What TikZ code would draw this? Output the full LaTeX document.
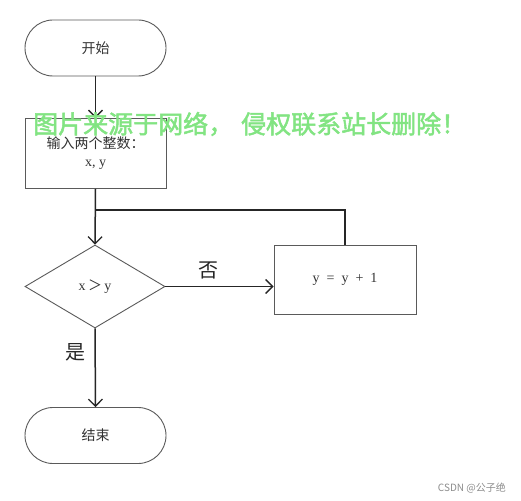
\documentclass[tikz,border=0pt]{standalone}
\usepackage{fontspec}
\setmainfont{Liberation Serif}
\newfontfamily\cjk{Noto Sans CJK SC}
\newfontfamily\cjkb[FakeBold=2]{Noto Sans CJK SC}
\usetikzlibrary{shapes.geometric,arrows.meta}
\definecolor{edge}{RGB}{90,90,90}
\definecolor{wm}{RGB}{130,228,130}
\tikzset{
  shp/.style={draw=edge,line width=0.9pt,fill=white,font=\cjk\fontsize{14}{16}\selectfont,text=black!80},
  term/.style={shp,rounded corners=28pt,minimum width=141pt,minimum height=56pt},
  boxnode/.style={shp,rectangle,minimum width=141pt,minimum height=70pt},
  dia/.style={shp,diamond,minimum width=140pt,minimum height=83pt,inner sep=0pt},
  conn/.style={draw=black!85,line width=1.5pt},
  arr/.style={conn,-{Straight Barb[length=7pt,width=14pt,line width=1.3pt]}},
  lab/.style={font=\cjk\fontsize{20}{22}\selectfont,text=black!85}
}
\begin{document}
\begin{tikzpicture}[x=1pt,y=-1pt]
\useasboundingbox (0,0) rectangle (521,500);
\fill[white] (0,0) rectangle (521,500);
\node[term] (start) at (95.5,48) {开始};
\node[boxnode,align=center] (input) at (95.5,153.5) {输入两个整数：\\[2pt]{\rmfamily x, y}};
\node[dia] (cond) at (95,286.5) {{\rmfamily x}\,＞\,{\rmfamily y}};
\node[shp,rectangle,minimum width=142pt,minimum height=69pt] (proc) at (345,279.5) {\rmfamily y\,\,\,=\,\,\,y\,\,\,+\,\,\,1};
\node[term] (stop) at (95.5,435.5) {结束};
\coordinate (join) at (95.5,210);
\draw[arr] (start.south) -- (input.north);
\draw[arr] (input.south) -- (cond.north);
\draw[conn] (proc.north) |- (join);
\draw[arr] (cond.east) -- node[lab,above=3pt,pos=0.4] (no) {否} (proc.west |- cond.east);
\draw[arr] (cond.south) -- node[lab,left=6pt,pos=0.3] (yes) {是} (stop.north);
\node[font=\cjkb\fontsize{25}{27}\selectfont,text=wm,anchor=west,inner sep=0pt] (wmark) at (33,124) {图片来源于网络，\hspace{8pt}侵权联系站长删除！};
\node[font=\cjk\fontsize{10}{12}\selectfont,text=black!45,anchor=east,inner sep=0pt] (csdn) at (506,488) {CSDN @公子绝};
\end{tikzpicture}
\end{document}
